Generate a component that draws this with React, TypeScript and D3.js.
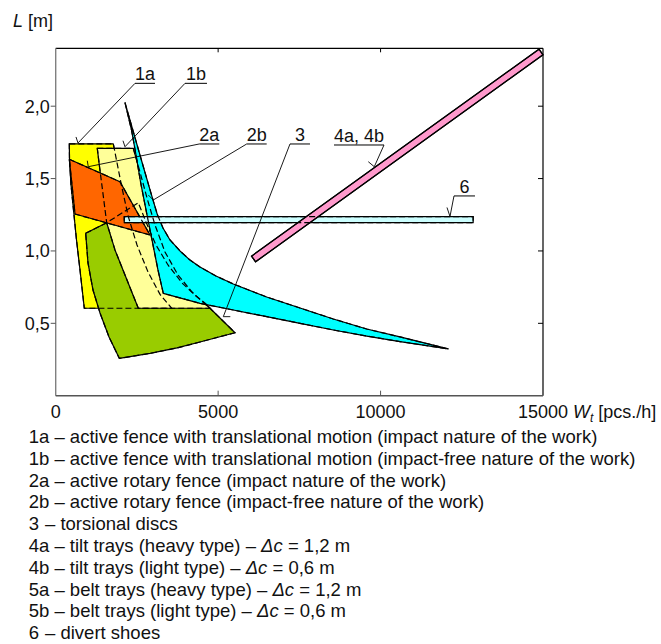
import React from "react";
import * as d3 from "d3";

type Pt = [number, number];

// Axes
const W_TICKS = [0, 5000, 10000, 15000];
const W_TICK_LABELS = ["0", "5000", "10000", "15000"];
const L_TICKS = [0.5, 1.0, 1.5, 2.0];
const L_TICK_LABELS = ["0,5", "1,0", "1,5", "2,0"];

// Application ranges as outlines in [W_t (pcs./h), L (m)]
// 1a – active fence, translational motion, impact
const FENCE_TRANSLATIONAL_IMPACT: Pt[] = [
  [419, 1.74], [1773, 1.74], [2032, 1.444], [2235, 1.237], [2503, 1.041],
  [2841, 0.855], [3211, 0.7], [3571, 0.604], [880, 0.604], [748, 0.868],
  [640, 1.076], [548, 1.283], [471, 1.456], [425, 1.628],
];

// 3 – torsional discs
const TORSIONAL_DISCS: Pt[] = [
  [923, 1.122], [1570, 1.195], [2543, 1.333], [2780, 1.2], [3087, 1.041],
  [3457, 0.903], [3888, 0.779], [4319, 0.689], [4627, 0.634], [4750, 0.604],
  [5519, 0.435], [4442, 0.371], [3734, 0.33], [2903, 0.292], [1958, 0.258],
  [1641, 0.406], [1364, 0.571], [1148, 0.73], [994, 0.917],
];

// 1b – active fence, translational motion, impact-free
const FENCE_TRANSLATIONAL_IMPACT_FREE: Pt[] = [
  [1280, 1.709], [2389, 1.709], [2595, 1.545], [2810, 1.366], [3057, 1.179],
  [3364, 0.993], [3765, 0.834], [4196, 0.716], [4565, 0.64], [4750, 0.604],
  [2543, 0.604], [2133, 0.834], [1825, 1.007], [1570, 1.195], [1441, 1.421],
  [1342, 1.594],
];

// 2a – active rotary fence, impact
const ROTARY_FENCE_IMPACT: Pt[] = [
  [419, 1.633], [1979, 1.478], [2903, 1.11], [594, 1.255], [502, 1.456],
];

// 2b – active rotary fence, impact-free
const ROTARY_FENCE_IMPACT_FREE: Pt[] = [
  [2133, 2.024], [2463, 1.766], [2700, 1.58], [2949, 1.387], [3134, 1.248],
  [3303, 1.159], [3518, 1.076], [3826, 1.0], [4134, 0.937], [4442, 0.889],
  [4934, 0.827], [5467, 0.772], [6495, 0.682], [7520, 0.606], [8545, 0.53],
  [9573, 0.461], [10598, 0.406], [12085, 0.323],
  [10598, 0.374], [9573, 0.412], [8545, 0.454], [7520, 0.5], [6495, 0.546],
  [5467, 0.592], [4442, 0.638], [3312, 0.707], [3149, 0.868], [2964, 1.076],
  [2780, 1.283], [2610, 1.478], [2472, 1.663], [2333, 1.836],
];

// 6 – divert shoes
const DIVERT_SHOES_W = [2110, 12850];
const DIVERT_SHOES_L = [1.195, 1.237];

// 4a, 4b – tilt trays
const TILT_TRAYS: Pt[] = [
  [6027, 0.964], [6153, 0.925], [15000, 2.355], [14877, 2.394],
];

// Callouts: label, underline anchor, target point
const CALLOUT_LABELS = ["1a", "1b", "2a", "2b", "3", "4a, 4b", "6"];
const CALLOUT_ANCHORS: Pt[] = [
  [2441, 2.158], [3980, 2.158], [4420, 1.739], [5879, 1.739],
  [7212, 1.739], [10106, 1.732], [12260, 1.38],
];
const CALLOUT_TARGETS: Pt[] = [
  [686, 1.746], [2133, 1.72], [1003, 1.582], [3004, 1.352],
  [5159, 0.546], [9807, 1.582], [12137, 1.238],
];

// Key below the chart
const LEGEND_CODES = ["1a", "1b", "2a", "2b", "3", "4a", "4b", "5a", "5b", "6"];
const LEGEND_TEXTS = [
  "active fence with translational motion (impact nature of the work)",
  "active fence with translational motion (impact-free nature of the work)",
  "active rotary fence (impact nature of the work)",
  "active rotary fence (impact-free nature of the work)",
  "torsional discs",
  "tilt trays (heavy type)",
  "tilt trays (light type)",
  "belt trays (heavy type)",
  "belt trays (light type)",
  "divert shoes",
];
const LEGEND_DELTA_C = ["", "", "", "", "", "1,2", "0,6", "1,2", "0,6", ""];

const FONT = "'Liberation Sans', Arial, Helvetica, sans-serif";

export default function App() {
  const x = d3.scaleLinear().domain([0, 15000]).range([55.7, 543]);
  const y = d3.scaleLinear().domain([0, 2.4]).range([395.7, 48.3]);
  const line = d3
    .line<Pt>()
    .x((d) => x(d[0]))
    .y((d) => y(d[1]));
  const closed = (pts: Pt[]) => (line(pts) ?? "") + "Z";

  const barPts: Pt[] = [
    [DIVERT_SHOES_W[0], DIVERT_SHOES_L[0]],
    [DIVERT_SHOES_W[1], DIVERT_SHOES_L[0]],
    [DIVERT_SHOES_W[1], DIVERT_SHOES_L[1]],
    [DIVERT_SHOES_W[0], DIVERT_SHOES_L[1]],
  ];

  // drawing order: later areas cover earlier ones
  const areas: { pts: Pt[]; fill: string }[] = [
    { pts: FENCE_TRANSLATIONAL_IMPACT, fill: "#FFFF00" },
    { pts: TORSIONAL_DISCS, fill: "#99CC00" },
    { pts: FENCE_TRANSLATIONAL_IMPACT_FREE, fill: "#FFFF99" },
    { pts: ROTARY_FENCE_IMPACT, fill: "#FF6600" },
    { pts: ROTARY_FENCE_IMPACT_FREE, fill: "#00FFFF" },
    { pts: barPts, fill: "#CCFFFF" },
    { pts: TILT_TRAYS, fill: "#FF99CC" },
  ];

  // underline length / direction and end tick offsets for callouts
  const calloutStyle = [
    { len: 20, dir: 1, tick: [-2, -6] },
    { len: 22, dir: 1, tick: [-2, -6] },
    { len: 20, dir: 1, tick: [-1, -6] },
    { len: 20, dir: 1, tick: [-5, -5] },
    { len: 20, dir: 1, tick: [7, 0] },
    { len: 50, dir: -1, tick: [-6, -5] },
    { len: 21, dir: 1, tick: [-3, -9] },
  ];

  const x0 = x(0), x1 = x(15000), y0 = y(0), y1 = y(2.4);

  return (
    <svg
      width={661}
      height={644}
      style={{ position: "absolute", left: 0, top: 0, background: "#fff" }}
      fontFamily={FONT}
    >
      <rect x={0} y={0} width={661} height={644} fill="#fff" />

      {/* areas */}
      {areas.map((a, i) => (
        <path
          key={"a" + i}
          d={closed(a.pts)}
          fill={a.fill}
          stroke="#000"
          strokeWidth={1.2}
          strokeLinejoin="round"
        />
      ))}
      {/* hidden outlines show through as dashes */}
      {areas.slice(0, 6).map((a, i) => (
        <path
          key={"h" + i}
          d={closed(a.pts)}
          fill="none"
          stroke="#000"
          strokeWidth={1.2}
          strokeDasharray="6,3"
        />
      ))}
      <path
        d={closed(TILT_TRAYS)}
        fill="none"
        stroke="#000"
        strokeWidth={1.2}
      />

      {/* frame */}
      <line x1={x0} y1={y1} x2={x1} y2={y1} stroke="#000" strokeWidth={1.2} />
      <line x1={x1} y1={y1} x2={x1} y2={y0} stroke="#000" strokeWidth={1.2} />
      <line x1={x0} y1={y1} x2={x0} y2={y0} stroke="#808080" strokeWidth={1.4} />
      <line x1={x0} y1={y0} x2={x1} y2={y0} stroke="#555" strokeWidth={1.4} />

      {/* L ticks */}
      {L_TICKS.map((t, i) => (
        <g key={"ly" + i}>
          <line x1={x0 - 5} x2={x0} y1={y(t)} y2={y(t)} stroke="#555" strokeWidth={1} />
          <line x1={x1 - 5} x2={x1} y1={y(t)} y2={y(t)} stroke="#000" strokeWidth={1} />
          <text x={x0 - 6} y={y(t) + 6.4} textAnchor="end" fontSize={18} fill="#111">
            {L_TICK_LABELS[i]}
          </text>
        </g>
      ))}
      {/* W ticks */}
      {W_TICKS.map((t, i) => (
        <g key={"wx" + i}>
          {i > 0 && i < W_TICKS.length - 1 && (
            <>
              <line x1={x(t)} x2={x(t)} y1={y0} y2={y0 - 5} stroke="#555" strokeWidth={1} />
              <line x1={x(t)} x2={x(t)} y1={y1} y2={y1 + 4} stroke="#000" strokeWidth={1} />
            </>
          )}
          <text x={x(t)} y={418.3} textAnchor="middle" fontSize={18} fill="#111">
            {W_TICK_LABELS[i]}
          </text>
        </g>
      ))}

      {/* axis titles */}
      <text x={13} y={27} fontSize={18} fill="#111">
        <tspan fontStyle="italic">L</tspan>
        <tspan> [m]</tspan>
      </text>
      <text x={573} y={418.3} fontSize={18} fill="#111">
        <tspan fontStyle="italic">W</tspan>
        <tspan fontStyle="italic" fontSize={12} dy={4}>t</tspan>
        <tspan dy={-4}> [pcs./h]</tspan>
      </text>

      {/* callouts */}
      {CALLOUT_LABELS.map((lab, i) => {
        const s = calloutStyle[i];
        const ax = x(CALLOUT_ANCHORS[i][0]);
        const ay = y(CALLOUT_ANCHORS[i][1]);
        const tx = x(CALLOUT_TARGETS[i][0]);
        const ty = y(CALLOUT_TARGETS[i][1]);
        const ux = ax + s.dir * s.len;
        return (
          <g key={"c" + i}>
            <line x1={ax} y1={ay} x2={ux} y2={ay} stroke="#000" strokeWidth={1} />
            <line x1={ax} y1={ay} x2={tx} y2={ty} stroke="#000" strokeWidth={0.9} />
            <line
              x1={tx}
              y1={ty}
              x2={tx + s.tick[0]}
              y2={ty + s.tick[1]}
              stroke="#000"
              strokeWidth={0.9}
            />
            <text
              x={(ax + ux) / 2}
              y={ay - 3}
              textAnchor="middle"
              fontSize={18}
              fill="#111"
            >
              {lab}
            </text>
          </g>
        );
      })}

      {/* key */}
      {LEGEND_CODES.map((code, i) => {
        const by = 443 + i * 21.8;
        const single = code.length === 1;
        return (
          <text key={"k" + i} x={28.7} y={by} fontSize={18.5} fill="#111">
            <tspan>{code}</tspan>
            {single ? (
              <tspan x={45}>– {LEGEND_TEXTS[i]}</tspan>
            ) : (
              <tspan> – {LEGEND_TEXTS[i]}</tspan>
            )}
            {LEGEND_DELTA_C[i] && (
              <>
                <tspan> – </tspan>
                <tspan fontStyle="italic">Δc</tspan>
                <tspan> = {LEGEND_DELTA_C[i]} m</tspan>
              </>
            )}
          </text>
        );
      })}
    </svg>
  );
}
